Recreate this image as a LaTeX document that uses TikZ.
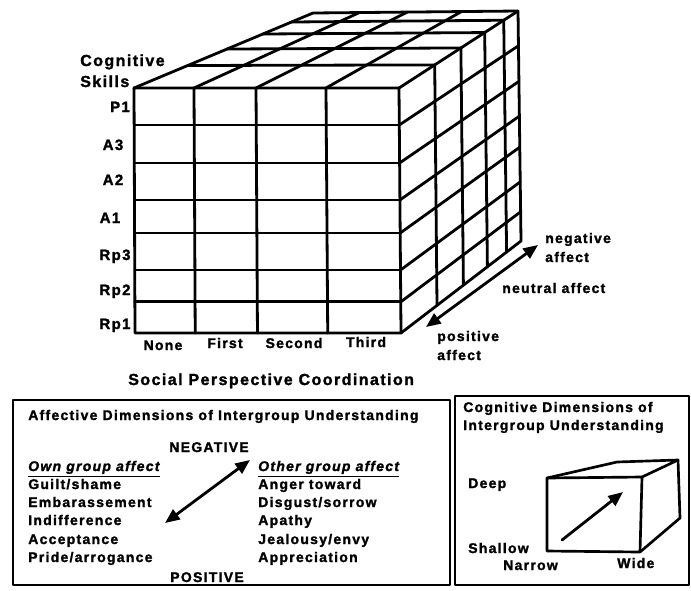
\documentclass[tikz,border=0pt]{standalone}
\usepackage{fontspec}
\setmainfont{Liberation Sans}[LetterSpace=9,BoldFeatures={FakeBold=1.6},BoldItalicFeatures={FakeBold=1.6}]
\usetikzlibrary{arrows.meta,calc}
\begin{document}
\begin{tikzpicture}[x=0.75pt,y=-0.75pt,line join=round,line cap=round,
  grid/.style={line width=2.1pt},
  lab/.style={font=\bfseries\fontsize{10.5}{12}\selectfont,inner sep=0pt},
  biglab/.style={font=\bfseries\fontsize{12}{14}\selectfont,inner sep=0pt},
  rowlab/.style={font=\bfseries\fontsize{11.25}{13}\selectfont,inner sep=0pt,anchor=base},
  dbl/.style={line width=2.1pt,{Triangle[length=11pt,width=9pt]}-{Triangle[length=11pt,width=9pt]}},
  frame/.style={line width=2pt}]
\useasboundingbox (0,0) rectangle (691,590);
% ---------- big cube ----------
\coordinate (FTL) at (134,88);
\coordinate (FTR) at (399,88);
\coordinate (FBL) at (135,333);
\coordinate (FBR) at (401,333);
\coordinate (BTL) at (313,13);
\coordinate (BTR) at (518,11);
\coordinate (BBR) at (521,241);
\foreach \s in {0.151,0.306,0.457,0.592,0.743,0.873} {
  \draw[grid] ($(FTL)!\s!(FBL)$) -- ($(FTR)!\s!(FBR)$);
  \draw[grid] ($(FTR)!\s!(FBR)$) -- ($(BTR)!\s!(BBR)$);
}
\foreach \u in {0.2264,0.4604,0.7245} {
  \draw[grid] ($(FTL)!\u!(FTR)$) -- ($(FBL)!\u!(FBR)$);
  \draw[grid] ($(FTL)!\u!(FTR)$) -- ($(BTL)!\u!(BTR)$);
}
\foreach \t in {0.30,0.52,0.72,0.88} {
  \draw[grid] ($(FTL)!\t!(BTL)$) -- ($(FTR)!\t!(BTR)$);
  \draw[grid] ($(FTR)!\t!(BTR)$) -- ($(FBR)!\t!(BBR)$);
}
\draw[grid] (FTL) -- (FTR) -- (FBR) -- (FBL) -- cycle;
\draw[grid] (FTL) -- (BTL) -- (BTR) -- (BBR) -- (FBR);
\draw[grid] (FTR) -- (BTR);
% ---------- cube labels ----------
\node[biglab,anchor=base west] (cog) at (80,66) {Cognitive};
\node[biglab,anchor=base west] (skl) at (80,87) {Skills};
\node[rowlab] (p1) at (120,112) {P1};
\node[rowlab] (a3) at (113,150) {A3};
\node[rowlab] (a2) at (113,185) {A2};
\node[rowlab] (a1) at (110,223) {A1};
\node[rowlab] (rp3) at (115,260) {Rp3};
\node[rowlab] (rp2) at (115,295) {Rp2};
\node[rowlab] (rp1) at (115,329) {Rp1};
\node[lab,anchor=base] (none) at (163,350) {None};
\node[lab,anchor=base] (first) at (225,348) {First};
\node[lab,anchor=base] (second) at (294,348) {Second};
\node[lab,anchor=base] (third) at (366,347) {Third};
\node[biglab,anchor=base west] (spc) at (128,385) {Social Perspective Coordination};
% ---------- affect axis ----------
\coordinate (posend) at (426,327);
\coordinate (negend) at (538,245);
\draw[dbl] (posend) -- (negend);
\node[lab,anchor=base west] (neg1) at (545,243) {negative};
\node[lab,anchor=base west] (neg2) at (545,262) {affect};
\node[lab,anchor=base west] (neu) at (502,293) {neutral affect};
\node[lab,anchor=base west] (pos1) at (437,341) {positive};
\node[lab,anchor=base west] (pos2) at (437,360) {affect};
% ---------- left box ----------
\draw[frame] (13,400) rectangle (450,585);
\node[lab,anchor=base west] (atitle) at (28,420) {Affective Dimensions of Intergroup Understanding};
\node[lab,anchor=base] (negw) at (209,452) {NEGATIVE};
\node[lab,anchor=base] (posw) at (207,582) {POSITIVE};
\node[lab,anchor=base west] (own) at (28,471) {\underline{\itshape Own group affect}};
\node[lab,anchor=base west] (own1) at (28,489) {Guilt/shame};
\node[lab,anchor=base west] (own2) at (28,507) {Embarassement};
\node[lab,anchor=base west] (own3) at (28,525) {Indifference};
\node[lab,anchor=base west] (own4) at (28,544) {Acceptance};
\node[lab,anchor=base west] (own5) at (28,562) {Pride/arrogance};
\node[lab,anchor=base west] (oth) at (258,471) {\underline{\itshape Other group affect}};
\node[lab,anchor=base west] (oth1) at (258,489) {Anger toward};
\node[lab,anchor=base west] (oth2) at (258,507) {Disgust/sorrow};
\node[lab,anchor=base west] (oth3) at (258,525) {Apathy};
\node[lab,anchor=base west] (oth4) at (258,544) {Jealousy/envy};
\node[lab,anchor=base west] (oth5) at (258,562) {Appreciation};
\coordinate (apos) at (165,523);
\coordinate (aneg) at (250,460);
\draw[dbl] (apos) -- (aneg);
% ---------- right box ----------
\draw[frame] (455,396) rectangle (689,585);
\node[lab,anchor=base west] (ct1) at (463,412) {Cognitive Dimensions of};
\node[lab,anchor=base west] (ct2) at (463,430) {Intergroup Understanding};
\node[lab,anchor=base west] (deep) at (468,488) {Deep};
\node[lab,anchor=base west] (shal) at (468,553) {Shallow};
\node[lab,anchor=base west] (narr) at (503,570) {Narrow};
\node[lab,anchor=base west] (wide) at (617,568) {Wide};
\coordinate (cFTL) at (547,478);
\coordinate (cFTR) at (642,477);
\coordinate (cFBR) at (640,552);
\coordinate (cFBL) at (547,551);
\coordinate (cBTL) at (617,462);
\coordinate (cBTR) at (678,460);
\coordinate (cBBR) at (680,518);
\draw[frame] (cFTL) -- (cFTR) -- (cFBR) -- (cFBL) -- cycle;
\draw[frame] (cFTL) -- (cBTL) -- (cBTR) -- (cFTR);
\draw[frame] (cBTR) -- (cBBR) -- (cFBR);
\coordinate (cs) at (562,540);
\coordinate (ce) at (623,492);
\draw[line width=2.1pt,-{Triangle[length=11pt,width=9pt]}] (cs) -- (ce);
\end{tikzpicture}
\end{document}
